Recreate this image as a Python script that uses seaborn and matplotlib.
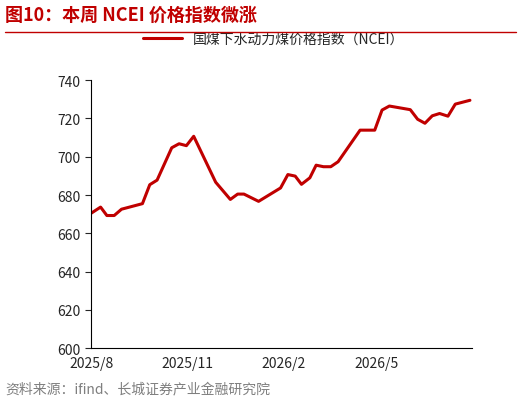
import matplotlib
matplotlib.use('Agg')
import matplotlib.pyplot as plt
import numpy as np
import pandas as pd
import seaborn as sns

dates = ['2025-08-01', '2025-08-10', '2025-08-16', '2025-08-23', '2025-08-30', '2025-09-19',
         '2025-09-26', '2025-10-03', '2025-10-17', '2025-10-24', '2025-10-31', '2025-11-07',
         '2025-11-28', '2025-12-12', '2025-12-19', '2025-12-25', '2026-01-08', '2026-01-29',
         '2026-02-05', '2026-02-12', '2026-02-18', '2026-02-26', '2026-03-04', '2026-03-11',
         '2026-03-18', '2026-03-25', '2026-04-15', '2026-04-22', '2026-04-29', '2026-05-06',
         '2026-05-13', '2026-06-02', '2026-06-09', '2026-06-16', '2026-06-23', '2026-06-30',
         '2026-07-08', '2026-07-15', '2026-07-29']
ncei = [670.5, 673.7, 669.3, 669.3, 672.6, 675.5, 685.4, 687.8, 704.7, 706.8, 705.8, 710.7,
        686.7, 677.7, 680.5, 680.5, 676.7, 683.7, 690.7, 689.9, 685.6, 689.0, 695.6, 694.8,
        694.8, 697.4, 713.9, 713.9, 713.9, 724.4, 726.5, 724.6, 719.6, 717.5, 721.4, 722.6,
        721.2, 727.5, 729.5]
label = '国煤下水动力煤价格指数（NCEI）'
ticks = ['2025-08-01', '2025-11-01', '2026-02-01', '2026-05-01']
tick_labels = ['2025/8', '2025/11', '2026/2', '2026/5']

sns.set_style('ticks')
plt.rcParams['font.family'] = ['Noto Sans CJK SC', 'DejaVu Sans']

df = pd.DataFrame({'date': pd.to_datetime(dates), 'value': ncei})

fig = plt.figure(figsize=(5.21, 4.06), dpi=100)
ax = fig.add_axes([0.175, 0.14, 0.731, 0.66])
sns.lineplot(data=df, x='date', y='value', color='#C00000', linewidth=2.2, ax=ax, label=label)

ax.set_ylim(600, 740)
ax.set_yticks(np.arange(600, 741, 20))
ax.set_xlim(pd.Timestamp('2025-08-01'), pd.Timestamp('2026-07-31'))
ax.set_xticks(pd.to_datetime(ticks))
ax.set_xticklabels(tick_labels)
ax.tick_params(axis='x', length=0, labelsize=10, pad=6)
ax.tick_params(axis='y', direction='out', length=4, labelsize=10)
ax.set_xlabel('')
ax.set_ylabel('')
for s in ['top', 'right']:
    ax.spines[s].set_visible(False)
ax.spines['left'].set_color('black')
ax.spines['bottom'].set_color('black')

ax.legend(loc='center', bbox_to_anchor=(0.48, 1.155), frameon=False, fontsize=10,
          handlelength=2.8)

fig.text(0.01, 0.962, '图10：本周 NCEI 价格指数微涨', color='#C00000', fontsize=13,
         fontweight='bold', style='italic', va='center')
fig.add_artist(plt.Line2D([0.01, 0.99], [0.919, 0.919], color='#C00000', linewidth=1))
fig.text(0.01, 0.04, '资料来源：ifind、长城证券产业金融研究院', color='#7F7F7F', fontsize=10,
         style='italic', va='center')

fig.savefig('out.png', dpi=100)
